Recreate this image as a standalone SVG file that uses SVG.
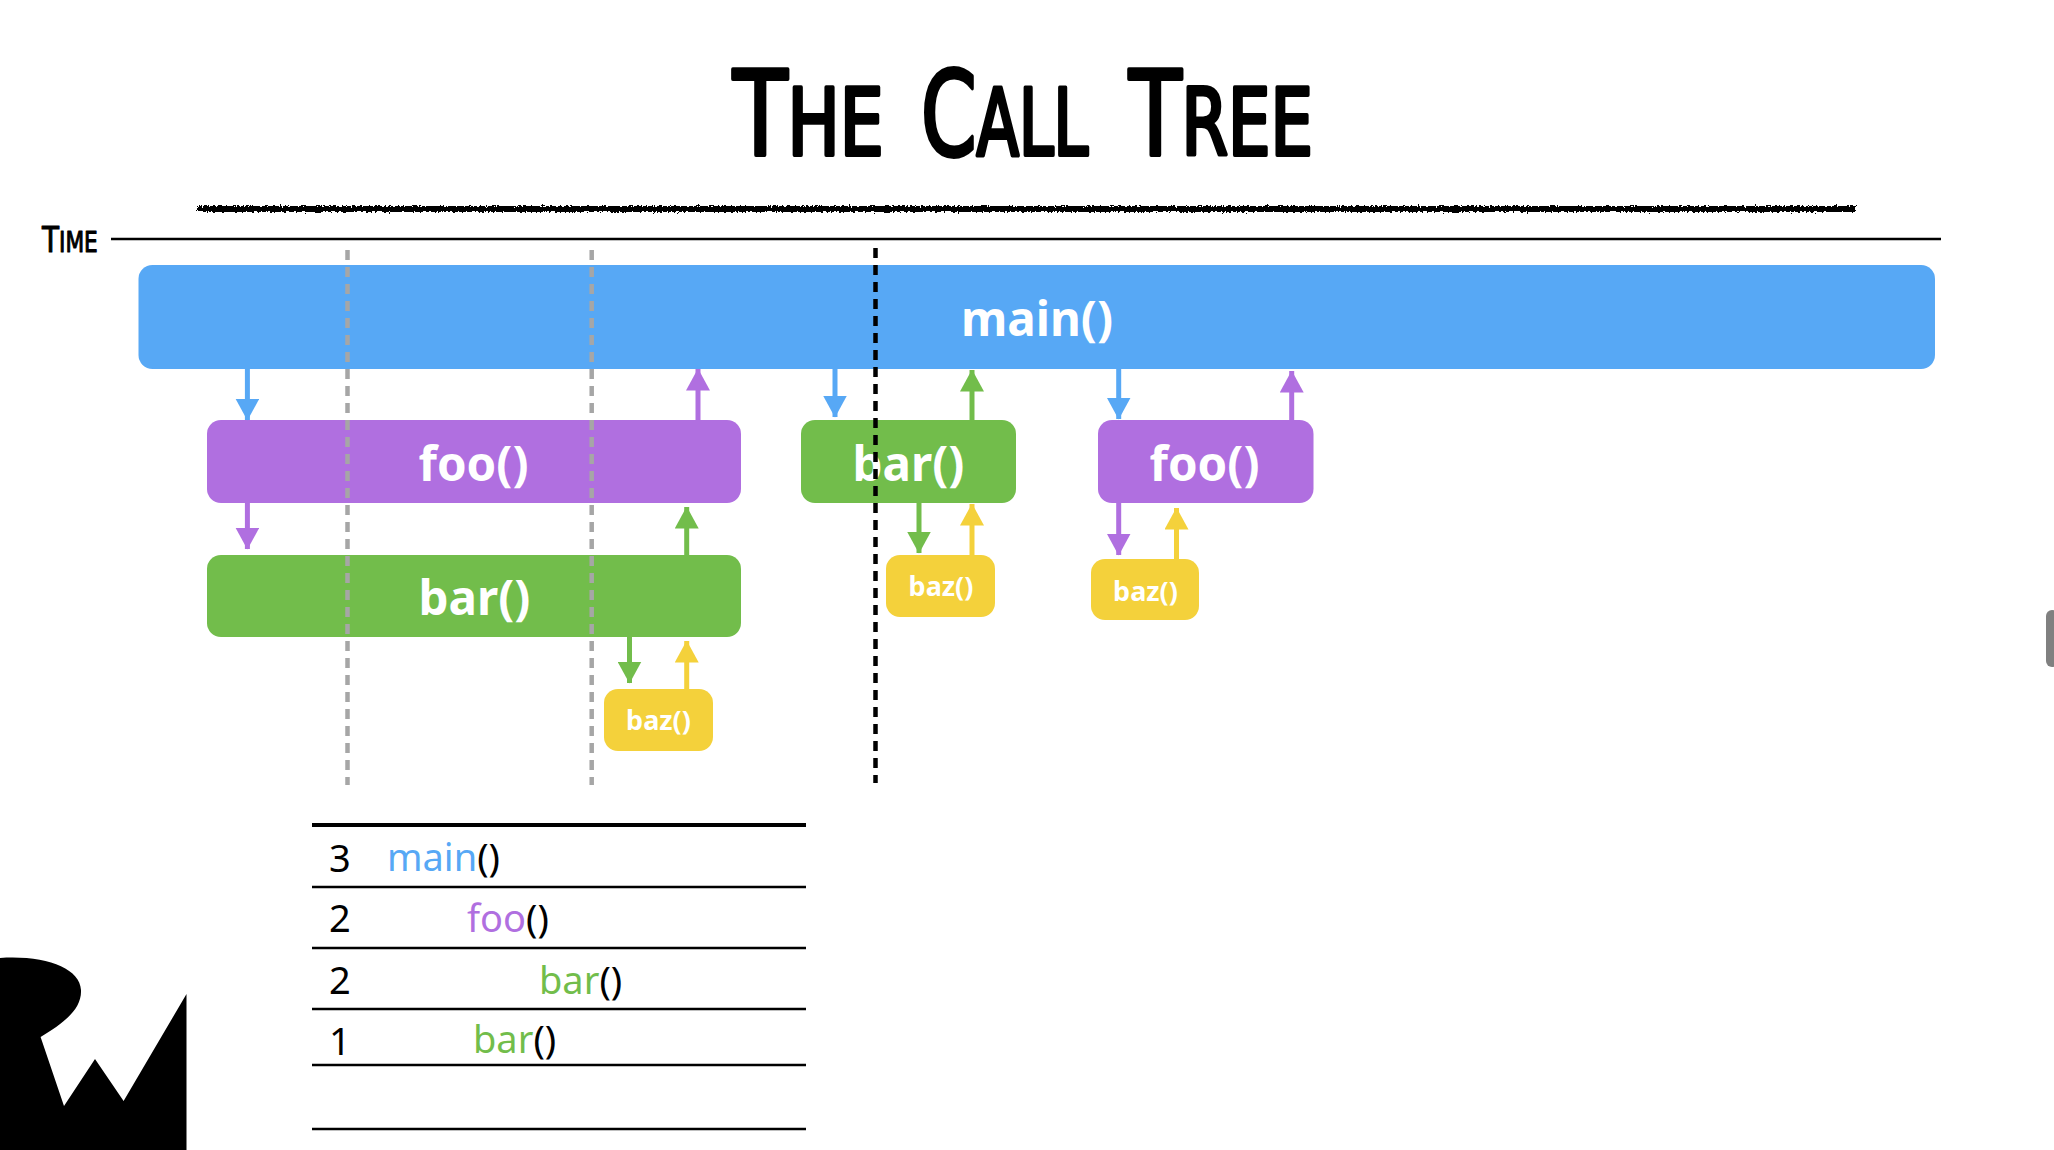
<svg xmlns="http://www.w3.org/2000/svg" width="2054" height="1150" viewBox="0 0 2054 1150">
<style>
.lbl{font-family:"Noto Sans","Open Sans",sans-serif;font-weight:700;fill:#fff;text-anchor:middle}
.big{font-size:47.500px}.small{font-size:27px}
.tb{font-family:"Noto Sans","Open Sans",sans-serif;font-size:38px;fill:#000}
.hand{font-family:"DejaVu Sans Condensed","DejaVu Sans",sans-serif;fill:#000;stroke:#000;stroke-linejoin:round}
.ttl{font-size:92px;stroke-width:4}
.cap{font-size:118px}
.blue{fill:#57a8f5}.purple{fill:#b06fe0}.green{fill:#72bd4b}.yellow{fill:#f4d13b}
.tl{stroke:#000;stroke-width:2.5}
.c{fill:none;stroke-width:5}
.gd{stroke:#a6a6a6;stroke-width:4.5;stroke-dasharray:10 7;fill:none}
.kd{stroke:#000;stroke-width:4.5;stroke-dasharray:10 7;fill:none}
</style>
<defs>
<filter id="rough" filterUnits="userSpaceOnUse" x="180" y="190" width="1700" height="40"><feTurbulence type="fractalNoise" baseFrequency="0.45" numOctaves="2" seed="4"/><feDisplacementMap in="SourceGraphic" scale="5" xChannelSelector="R" yChannelSelector="G"/></filter>
<marker id="mb" markerUnits="userSpaceOnUse" markerWidth="22" markerHeight="24" viewBox="0 0 22 24" refX="21.5" refY="12" orient="auto"><path d="M0 0L22 12L0 24Z" fill="#57a8f5"/></marker>
<marker id="mp" markerUnits="userSpaceOnUse" markerWidth="22" markerHeight="24" viewBox="0 0 22 24" refX="21.5" refY="12" orient="auto"><path d="M0 0L22 12L0 24Z" fill="#b06fe0"/></marker>
<marker id="mg" markerUnits="userSpaceOnUse" markerWidth="22" markerHeight="24" viewBox="0 0 22 24" refX="21.5" refY="12" orient="auto"><path d="M0 0L22 12L0 24Z" fill="#72bd4b"/></marker>
<marker id="my" markerUnits="userSpaceOnUse" markerWidth="22" markerHeight="24" viewBox="0 0 22 24" refX="21.5" refY="12" orient="auto"><path d="M0 0L22 12L0 24Z" fill="#f4d13b"/></marker>
</defs>
<rect width="2054" height="1150" fill="#fff"/>
<g id="title">
<text class="hand ttl" transform="translate(733 155) scale(.84 1)"><tspan class="cap">T</tspan>HE</text>
<text class="hand ttl" transform="translate(921 155) scale(.75 1)"><tspan class="cap">C</tspan>ALL</text>
<text class="hand ttl" transform="translate(1129 155) scale(.81 1)"><tspan class="cap">T</tspan>REE</text>
<rect x="197" y="206" width="1658" height="6" fill="#000" filter="url(#rough)"/>
</g>
<g id="time-axis">
<text class="hand" transform="translate(42 252) scale(.86 1)" font-size="36" stroke-width="1"><tspan>T</tspan><tspan font-size="28">IME</tspan></text>
<line x1="111" y1="239" x2="1941" y2="239" stroke="#000" stroke-width="2.5"/>
</g>
<g id="node-main"><rect class="blue" x="138.500" y="265" width="1796.500" height="104" rx="14"/><text class="lbl big" x="1037" y="336">main()</text></g>
<g id="node-foo-1"><rect class="purple" x="207" y="420" width="534" height="83" rx="14"/><text class="lbl big" x="473.500" y="481">foo()</text></g>
<g id="node-bar-1"><rect class="green" x="207" y="555" width="534" height="82" rx="14"/><text class="lbl big" x="474.500" y="615">bar()</text></g>
<g id="node-baz-1"><rect class="yellow" x="604" y="689" width="109" height="62" rx="14"/><text class="lbl small" x="658.500" y="730">baz()</text></g>
<g id="node-bar-2"><rect class="green" x="801" y="420" width="215" height="83" rx="14"/><text class="lbl big" x="908.500" y="481">bar()</text></g>
<g id="node-baz-2"><rect class="yellow" x="886" y="555" width="109" height="62" rx="14"/><text class="lbl small" x="941" y="596">baz()</text></g>
<g id="node-foo-2"><rect class="purple" x="1098" y="420" width="215.500" height="83" rx="14"/><text class="lbl big" x="1204.500" y="481">foo()</text></g>
<g id="node-baz-3"><rect class="yellow" x="1091" y="559" width="108" height="61" rx="14"/><text class="lbl small" x="1145.500" y="601">baz()</text></g>
<g id="connectors">
<path class="c" stroke="#57a8f5" marker-end="url(#mb)" d="M247.400 369V420"/>
<path class="c" stroke="#b06fe0" marker-end="url(#mp)" d="M698 420V369"/>
<path class="c" stroke="#57a8f5" marker-end="url(#mb)" d="M835 369V417"/>
<path class="c" stroke="#72bd4b" marker-end="url(#mg)" d="M972 420V370"/>
<path class="c" stroke="#57a8f5" marker-end="url(#mb)" d="M1118.700 369V419"/>
<path class="c" stroke="#b06fe0" marker-end="url(#mp)" d="M1291.700 420V371"/>
<path class="c" stroke="#b06fe0" marker-end="url(#mp)" d="M247.400 503V549"/>
<path class="c" stroke="#72bd4b" marker-end="url(#mg)" d="M686.700 555V507"/>
<path class="c" stroke="#72bd4b" marker-end="url(#mg)" d="M629.500 637V683"/>
<path class="c" stroke="#f4d13b" marker-end="url(#my)" d="M686.700 689V641"/>
<path class="c" stroke="#72bd4b" marker-end="url(#mg)" d="M919 503V553"/>
<path class="c" stroke="#f4d13b" marker-end="url(#my)" d="M972 555V504"/>
<path class="c" stroke="#b06fe0" marker-end="url(#mp)" d="M1118.700 503V555"/>
<path class="c" stroke="#f4d13b" marker-end="url(#my)" d="M1176.500 559V508"/>
</g>
<g id="time-markers">
<line class="gd" x1="347.500" y1="250" x2="347.500" y2="785"/>
<line class="gd" x1="591.700" y1="250" x2="591.700" y2="785"/>
<line class="kd" x1="875.500" y1="248" x2="875.500" y2="783"/>
</g>
<g id="table">
<line x1="312" y1="825" x2="806" y2="825" stroke="#000" stroke-width="4"/>
<line class="tl" x1="312" y1="887" x2="806" y2="887"/>
<line class="tl" x1="312" y1="948" x2="806" y2="948"/>
<line class="tl" x1="312" y1="1009" x2="806" y2="1009"/>
<line class="tl" x1="312" y1="1065" x2="806" y2="1065"/>
<line class="tl" x1="312" y1="1129" x2="806" y2="1129"/>
<text class="tb" x="329" y="872">3</text>
<text class="tb" x="387" y="871"><tspan fill="#57a8f5">main</tspan>()</text>
<text class="tb" x="329" y="932">2</text>
<text class="tb" x="467" y="932"><tspan fill="#b06fe0">foo</tspan>()</text>
<text class="tb" x="329" y="994">2</text>
<text class="tb" x="539" y="994"><tspan fill="#72bd4b">bar</tspan>()</text>
<text class="tb" x="329" y="1055">1</text>
<text class="tb" x="473" y="1053"><tspan fill="#72bd4b">bar</tspan>()</text>
</g>
<path id="logo" fill="#000" d="M0 958C45 955 80 968 81 990C82 1010 62 1024 40.600 1037L64 1106L95 1059L123.600 1101L186.500 994V1150H0Z"/>
<rect id="scrollbar" x="2046" y="610" width="12" height="57" rx="6" fill="#808080"/>
</svg>
